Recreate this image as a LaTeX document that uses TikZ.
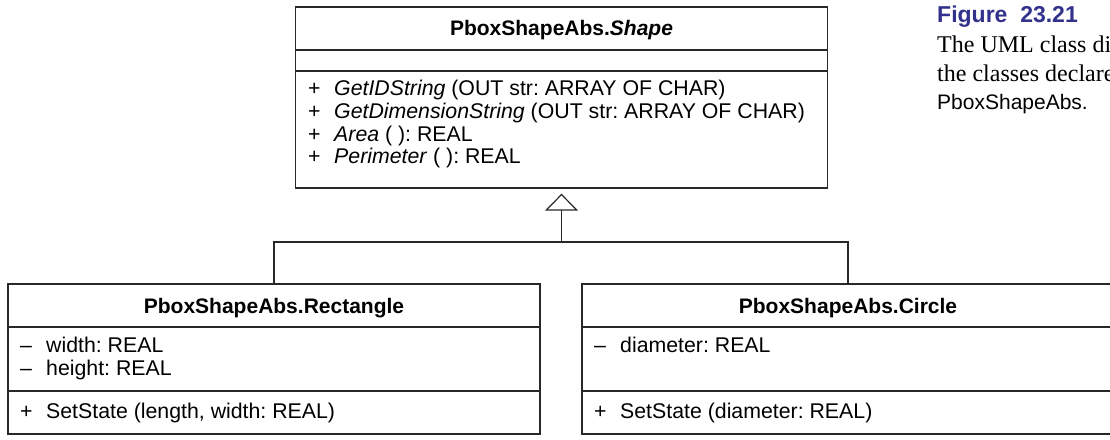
\documentclass[tikz,border=0pt]{standalone}
\usepackage{fontspec}
\setmainfont{Liberation Serif}
\setsansfont{Liberation Sans}
\usetikzlibrary{arrows.meta}
\definecolor{capblue}{RGB}{50,50,140}
\definecolor{umlgray}{RGB}{40,40,40}
\frenchspacing
\begin{document}
\begin{tikzpicture}[x=1pt,y=-1pt,
  classbox/.style={draw=umlgray, line width=1.3pt, inner sep=0pt},
  sepline/.style={draw=umlgray, line width=1.3pt},
  link/.style={draw=umlgray, line width=1.3pt},
  inherit/.style={link, -{Triangle[open, length=17pt, width=33pt, line width=1.2pt]}},
  title/.style={font=\sffamily\bfseries\fontsize{21}{24}\selectfont, anchor=base, inner sep=0pt},
  member/.style={font=\sffamily\fontsize{21.3}{24}\selectfont, anchor=base west, inner sep=0pt},
  capfig/.style={font=\sffamily\bfseries\fontsize{23}{26}\selectfont, text=capblue, anchor=base west, inner sep=0pt},
  capserif/.style={font=\rmfamily\fontsize{24}{29}\selectfont, anchor=base west, inner sep=0pt},
  capsans/.style={font=\sffamily\fontsize{21}{24}\selectfont, anchor=base west, inner sep=0pt}
]
\newcommand{\vis}[1]{\makebox[26pt][l]{#1}}
\clip (0,0) rectangle (1110,439);
\useasboundingbox (0,0) rectangle (1110,439);
\fill[white] (0,0) rectangle (1110,439);

% abstract base class
\node[classbox, minimum width=532pt, minimum height=181pt] (shape) at (561.5,97.5) {};
\draw[sepline] (shape.west |- 0,50) -- (shape.east |- 0,50);
\draw[sepline] (shape.west |- 0,71) -- (shape.east |- 0,71);
\node[title] (shapetitle) at (561.5,35) {PboxShapeAbs.\textit{Shape}};
\node[member] (m1) at (308,95) {\vis{+}\textit{GetIDString} (OUT str: ARRAY OF CHAR)};
\node[member] (m2) at (308,118) {\vis{+}\textit{GetDimensionString} (OUT str: ARRAY OF CHAR)};
\node[member] (m3) at (308,141) {\vis{+}\textit{Area} ( ): REAL};
\node[member] (m4) at (308,163.5) {\vis{+}\textit{Perimeter} ( ): REAL};

% Rectangle subclass
\node[classbox, minimum width=532pt, minimum height=150pt] (rect) at (274,359) {};
\draw[sepline] (rect.west |- 0,327) -- (rect.east |- 0,327);
\draw[sepline] (rect.west |- 0,391) -- (rect.east |- 0,391);
\node[title] (recttitle) at (274,313) {PboxShapeAbs.Rectangle};
\node[member] (r1) at (20,352) {\vis{--}width: REAL};
\node[member] (r2) at (20,375) {\vis{--}height: REAL};
\node[member] (r3) at (20,418) {\vis{+}SetState (length, width: REAL)};

% Circle subclass
\node[classbox, minimum width=532pt, minimum height=150pt] (circ) at (848,359) {};
\draw[sepline] (circ.west |- 0,327) -- (circ.east |- 0,327);
\draw[sepline] (circ.west |- 0,391) -- (circ.east |- 0,391);
\node[title] (circtitle) at (848,313) {PboxShapeAbs.Circle};
\node[member] (c1) at (594,352) {\vis{--}diameter: REAL};
\node[member] (c2) at (594,418) {\vis{+}SetState (diameter: REAL)};

% generalization
\coordinate (hub) at (shape.south |- 0,242);
\draw[link] (rect.north) |- (hub) -| (circ.north);
\draw[inherit] (hub) -- ([yshift=-5pt]shape.south);

% caption
\node[capfig] (fig) at (937,23) {Figure\ \ 23.21};
\node[capserif] (cap1) at (937,52) {The UML class diagram of};
\node[capserif] (cap2) at (937,81) {the classes declared in};
\node[capsans] (cap3) at (937,109) {PboxShapeAbs.};
\end{tikzpicture}
\end{document}
